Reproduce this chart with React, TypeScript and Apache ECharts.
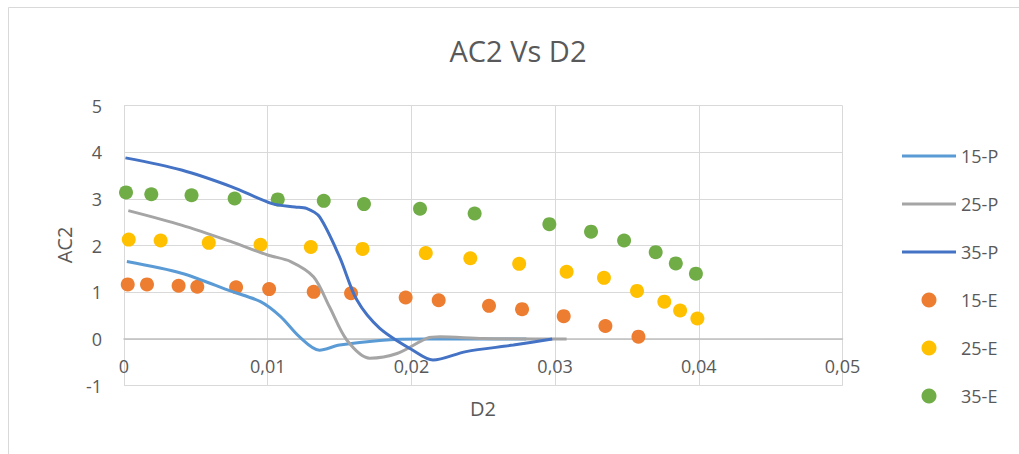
import React, { useEffect, useRef } from "react";
import * as echarts from "echarts";

const seriesNames = ["15-P", "25-P", "35-P", "15-E", "25-E", "35-E"];
const colors = ["#5B9BD5", "#A5A5A5", "#4472C4", "#ED7D31", "#FFC000", "#70AD47"];

const xTicks = [0, 0.01, 0.02, 0.03, 0.04, 0.05];
const yTicks = [-1, 0, 1, 2, 3, 4, 5];

const p15: [number, number][] = [
  [0.0002, 1.66], [0.004, 1.41], [0.0075, 1.02], [0.0095, 0.8], [0.0109, 0.48],
  [0.0122, 0.05], [0.0136, -0.24], [0.015, -0.13], [0.0178, -0.03], [0.021, 0],
  [0.025, 0], [0.028, 0],
];
const p25: [number, number][] = [
  [0.0003, 2.75], [0.004, 2.44], [0.0075, 2.08], [0.01, 1.8], [0.0116, 1.66],
  [0.0132, 1.33], [0.0143, 0.69], [0.0155, -0.02], [0.0171, -0.41], [0.019, -0.31],
  [0.0211, 0.02], [0.022, 0.05], [0.025, 0.01], [0.0308, 0],
];
const p35: [number, number][] = [
  [0.0001, 3.88], [0.004, 3.62], [0.0075, 3.26], [0.0103, 2.9], [0.0119, 2.83],
  [0.0127, 2.8], [0.0136, 2.62], [0.015, 1.76], [0.0162, 0.84], [0.0178, 0.23],
  [0.0201, -0.24], [0.0215, -0.45], [0.0238, -0.27], [0.0271, -0.13], [0.0298, 0],
];

const e15: [number, number][] = [
  [0.00026, 1.17], [0.0016, 1.17], [0.0038, 1.14], [0.0051, 1.12], [0.0078, 1.11],
  [0.0101, 1.07], [0.0132, 1.01], [0.0158, 0.98], [0.0196, 0.89], [0.0219, 0.83],
  [0.0254, 0.71], [0.0277, 0.64], [0.0306, 0.49], [0.0335, 0.28], [0.0358, 0.05],
];
const e25: [number, number][] = [
  [0.00033, 2.13], [0.00255, 2.11], [0.0059, 2.06], [0.0095, 2.02], [0.013, 1.97],
  [0.0166, 1.93], [0.021, 1.84], [0.0241, 1.73], [0.0275, 1.61], [0.0308, 1.44],
  [0.0334, 1.31], [0.0357, 1.03], [0.0376, 0.8], [0.0387, 0.61], [0.0399, 0.44],
];
const e35: [number, number][] = [
  [0.00014, 3.14], [0.0019, 3.1], [0.0047, 3.08], [0.0077, 3.01], [0.0107, 2.99],
  [0.0139, 2.96], [0.0167, 2.89], [0.0206, 2.79], [0.0244, 2.69], [0.0296, 2.46],
  [0.0325, 2.3], [0.0348, 2.11], [0.037, 1.86], [0.0384, 1.62], [0.0398, 1.4],
];

const lineData = [p15, p25, p35];
const scatterData = [e15, e25, e35];

const FONT = "'Open Sans', 'Noto Sans', sans-serif";
const TXT = "#595959";
const LINE_ICON = "path://M0,0 M54,15 M0,6 L54,6 L54,9 L0,9 Z";

export default function App() {
  const ref = useRef<HTMLDivElement>(null);
  useEffect(() => {
    if (!ref.current) return;
    const chart = echarts.init(ref.current, undefined, { renderer: "svg" });
    const series: any[] = [];
    lineData.forEach((d, i) => {
      series.push({
        name: seriesNames[i],
        type: "line",
        data: d,
        smooth: 0.3,
        symbol: "none",
        showSymbol: false,
        lineStyle: { width: 3, color: colors[i] },
        itemStyle: { color: colors[i] },
        z: 3,
      });
    });
    scatterData.forEach((d, i) => {
      series.push({
        name: seriesNames[i + 3],
        type: "scatter",
        data: d,
        symbol: "circle",
        symbolSize: 14,
        itemStyle: { color: colors[i + 3], opacity: 1 },
        z: 2,
      });
    });
    chart.setOption({
      animation: false,
      backgroundColor: "#ffffff",
      textStyle: { fontFamily: FONT },
      grid: {
        left: 124,
        top: 105.6,
        right: 176.5,
        bottom: 68.3,
        containLabel: false,
        outerBoundsMode: "none",
      },
      xAxis: {
        type: "value",
        min: xTicks[0],
        max: xTicks[xTicks.length - 1],
        interval: 0.01,
        axisLine: { show: true, onZero: true, lineStyle: { color: "#bfbfbf", width: 1.5 } },
        axisTick: { show: false },
        axisLabel: {
          color: TXT,
          fontSize: 18,
          fontFamily: FONT,
          margin: -29,
          formatter: (v: number) => String(Number(v.toFixed(2))).replace(".", ","),
        },
        splitLine: { show: true, lineStyle: { color: "#d9d9d9", width: 1 } },
      },
      yAxis: {
        type: "value",
        min: yTicks[0],
        max: yTicks[yTicks.length - 1],
        interval: 1,
        axisLine: { show: false },
        axisTick: { show: false },
        axisLabel: { color: TXT, fontSize: 18, fontFamily: FONT, margin: 22 },
        splitLine: { show: true, lineStyle: { color: "#d9d9d9", width: 1 } },
      },
      legend: {
        orient: "vertical",
        left: 902,
        top: 147,
        itemWidth: 54,
        itemHeight: 15,
        itemGap: 30,
        padding: 0,
        textStyle: { color: TXT, fontSize: 18, fontFamily: FONT },
        data: seriesNames.map((n, i) =>
          i < 3 ? { name: n, icon: LINE_ICON } : { name: n, icon: "circle" }
        ),
      },
      graphic: [
        { type: "line", shape: { x1: 8.5, y1: 7.5, x2: 1019, y2: 7.5 }, style: { stroke: "#d9d9d9", lineWidth: 1 } },
        { type: "line", shape: { x1: 8.5, y1: 7.5, x2: 8.5, y2: 454 }, style: { stroke: "#d9d9d9", lineWidth: 1 } },
        {
          type: "text",
          x: 518,
          y: 50,
          style: { text: "AC2 Vs D2", fill: TXT, fontSize: 29, fontFamily: FONT, textAlign: "center", textVerticalAlign: "middle" },
        },
        {
          type: "text",
          x: 64,
          y: 245,
          rotation: Math.PI / 2,
          style: { text: "AC2", fill: TXT, fontSize: 20, fontFamily: FONT, textAlign: "center", textVerticalAlign: "middle" },
        },
        {
          type: "text",
          x: 483,
          y: 408,
          style: { text: "D2", fill: TXT, fontSize: 20, fontFamily: FONT, textAlign: "center", textVerticalAlign: "middle" },
        },
      ],
      series,
    });
    return () => chart.dispose();
  }, []);
  return (
    <div
      ref={ref}
      style={{ position: "fixed", left: 0, top: 0, width: 1019, height: 454, background: "#fff" }}
    />
  );
}
